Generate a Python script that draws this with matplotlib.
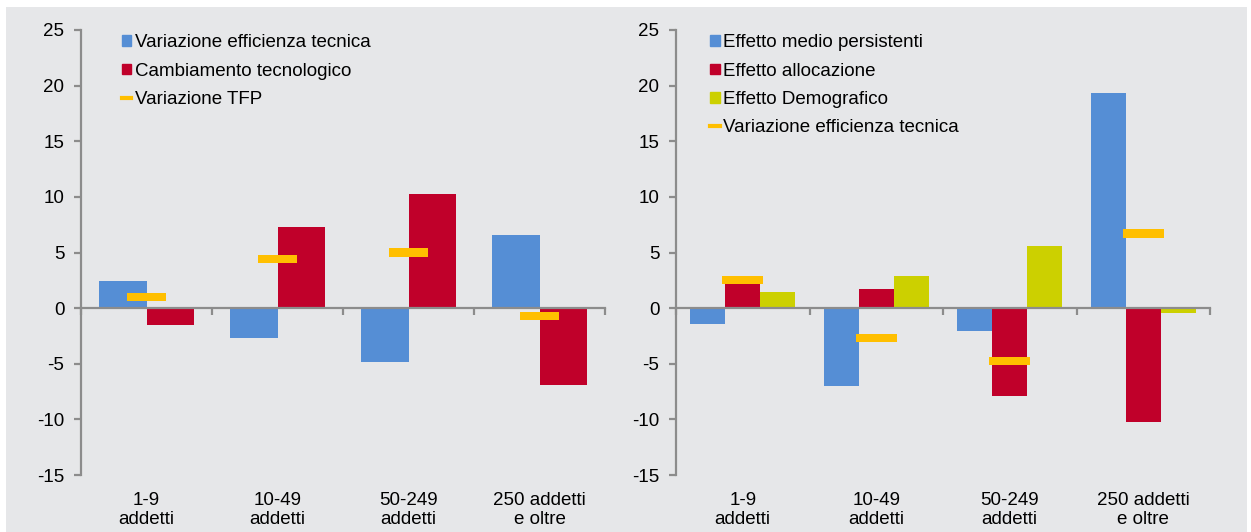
import matplotlib.pyplot as plt
from matplotlib.patches import Rectangle
from matplotlib.lines import Line2D

plt.rcParams['font.family'] = ['Liberation Sans', 'DejaVu Sans']
plt.rcParams['axes.unicode_minus'] = False

categorie = ['1-9\naddetti', '10-49\naddetti', '50-249\naddetti', '250 addetti\ne oltre']

# pannello sinistro
var_efficienza = [2.4, -2.7, -4.8, 6.6]
cambiamento_tecn = [-1.5, 7.3, 10.3, -6.9]
var_tfp = [1.0, 4.4, 5.0, -0.7]

# pannello destro
eff_persistenti = [-1.45, -7.0, -2.1, 19.3]
eff_allocazione = [2.2, 1.7, -7.9, -10.2]
eff_demografico = [1.45, 2.9, 5.6, -0.4]
var_eff_destra = [2.5, -2.7, -4.75, 6.7]

BLU = '#558ED5'
ROSSO = '#C0002A'
GIALLO = '#FFBF00'
VERDE = '#CCD000'
SFONDO = '#E6E7E9'
ASSE = '#8C8C8C'
FS = 13.5

fig = plt.figure(figsize=(12.51, 5.32), dpi=100, facecolor='white')
fig.patches.append(Rectangle((6 / 1251, 0), 1241 / 1251, 1 - 7 / 532,
                             transform=fig.transFigure, facecolor=SFONDO,
                             edgecolor='none', zorder=-10))

ax1 = fig.add_axes([81 / 1251, 1 - 475 / 532, 524 / 1251, 445 / 532])
ax2 = fig.add_axes([676 / 1251, 1 - 475 / 532, 534 / 1251, 445 / 532])


def marcatore(ax, valori, larghezza, colore):
    # trattino orizzontale come barra sottile centrata sul valore
    h = 0.75
    ax.bar(range(len(valori)), [h] * len(valori),
           bottom=[v - h / 2 for v in valori], width=larghezza,
           color=colore, zorder=4)


def stile(ax):
    ax.set_facecolor('none')
    ax.set_xlim(-0.5, 3.5)
    ax.set_ylim(-15, 25)
    ax.set_yticks(range(-15, 30, 5))
    for s in ['top', 'right']:
        ax.spines[s].set_visible(False)
    ax.spines['left'].set_color(ASSE)
    ax.spines['left'].set_linewidth(1.6)
    ax.spines['bottom'].set_position(('data', 0))
    ax.spines['bottom'].set_color(ASSE)
    ax.spines['bottom'].set_linewidth(1.6)
    ax.spines['bottom'].set_zorder(5)
    ax.set_xticks([-0.5, 0.5, 1.5, 2.5, 3.5])
    ax.set_xticklabels([])
    ax.tick_params(axis='x', direction='out', length=5, width=1.6, color=ASSE)
    ax.tick_params(axis='y', direction='out', length=5, width=1.6, color=ASSE,
                   labelsize=FS, pad=7)
    sec = ax.secondary_xaxis('bottom')
    sec.set_xticks(range(len(categorie)), categorie)
    sec.tick_params(length=0, pad=12, labelsize=FS)
    sec.spines['bottom'].set_visible(False)


x = range(len(categorie))
legenda = dict(loc='upper left', frameon=False, fontsize=FS, handlelength=0.5,
               handleheight=0.5, handletextpad=0.2, labelspacing=0.6,
               borderpad=0, borderaxespad=0)

# sinistra
w = 0.36
ax1.bar([i - w / 2 for i in x], var_efficienza, width=w, color=BLU, zorder=3)
ax1.bar([i + w / 2 for i in x], cambiamento_tecn, width=w, color=ROSSO, zorder=3)
marcatore(ax1, var_tfp, 0.305, GIALLO)
stile(ax1)

h1 = [Rectangle((0, 0), 1, 1, color=BLU), Rectangle((0, 0), 1, 1, color=ROSSO),
      Line2D([], [], color=GIALLO, lw=3)]
ax1.legend(h1, ['Variazione efficienza tecnica', 'Cambiamento tecnologico', 'Variazione TFP'],
           bbox_to_anchor=(0.078, 0.99), **legenda)

# destra
w = 0.262
ax2.bar([i - w for i in x], eff_persistenti, width=w, color=BLU, zorder=3)
ax2.bar(list(x), eff_allocazione, width=w, color=ROSSO, zorder=3)
ax2.bar([i + w for i in x], eff_demografico, width=w, color=VERDE, zorder=3)
marcatore(ax2, var_eff_destra, 0.31, GIALLO)
stile(ax2)

h2 = [Rectangle((0, 0), 1, 1, color=BLU), Rectangle((0, 0), 1, 1, color=ROSSO),
      Rectangle((0, 0), 1, 1, color=VERDE), Line2D([], [], color=GIALLO, lw=3)]
ax2.legend(h2, ['Effetto medio persistenti', 'Effetto allocazione', 'Effetto Demografico',
                'Variazione efficienza tecnica'],
           bbox_to_anchor=(0.064, 0.99), **legenda)

fig.savefig('out.png', dpi=100, facecolor='white')
